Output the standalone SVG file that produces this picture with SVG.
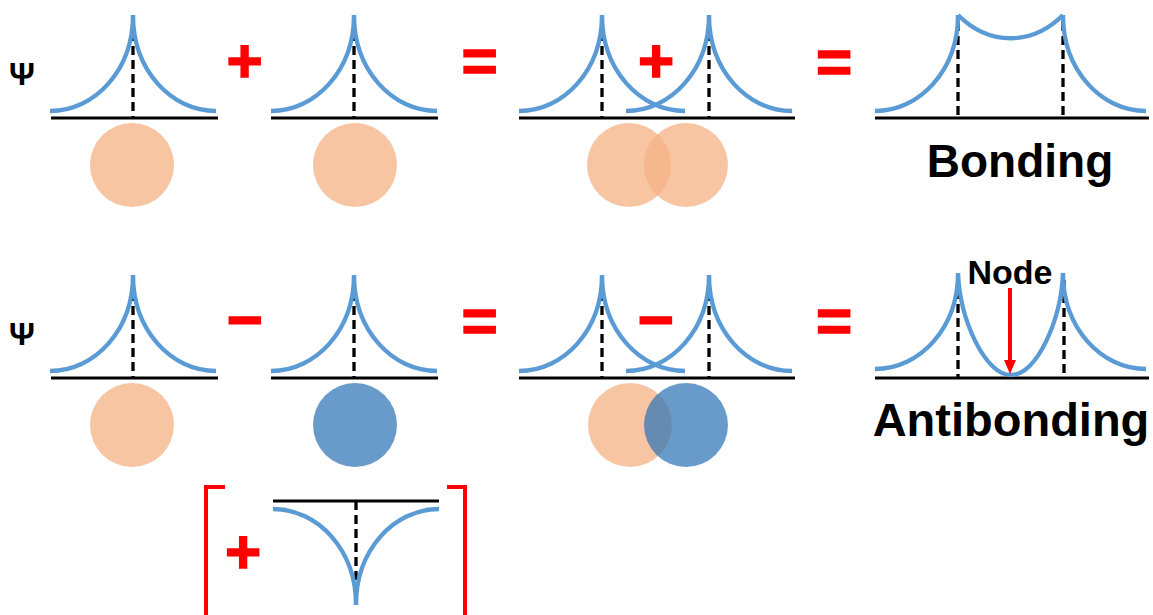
<svg xmlns="http://www.w3.org/2000/svg" xmlns:xlink="http://www.w3.org/1999/xlink" width="1153" height="615" viewBox="0 0 1153 615">
<style>
.wave{fill:none;stroke:#5B9BD5;stroke-width:4.3;stroke-linejoin:round;stroke-linecap:butt}
.axis{stroke:#000;stroke-width:3;fill:none}
.dash{stroke:#000;stroke-width:3.3;stroke-dasharray:9 5;fill:none}
.orb-a{fill:#F4B183;fill-opacity:0.75}
.orb-b{fill:#2E75B6;fill-opacity:0.72}
.op{font-family:"Liberation Sans",Arial,sans-serif;font-weight:bold;fill:#FF0000;stroke:#FF0000;stroke-width:1.5;text-anchor:middle}
.psi{font-family:"Liberation Sans",Arial,sans-serif;font-weight:bold;font-size:32px;fill:#000;text-anchor:middle}
.lbl{font-family:"Liberation Sans",Arial,sans-serif;font-weight:bold;fill:#000;text-anchor:middle}
.br{fill:none;stroke:#FF0000;stroke-width:4}
</style>
<defs>
<path id="lh" d="M-83,96 C-38,96 0,55 0,0"/>
<path id="rh" d="M0,0 C0,55 38,96 83,96"/>
<marker id="arr" viewBox="0 0 14 12" refX="2" refY="6" markerWidth="14" markerHeight="12" markerUnits="userSpaceOnUse" orient="auto">
<path d="M0,0 L14,6 L0,12 Z" fill="#FF0000"/>
</marker>
</defs>

<!-- Row 1: bonding -->
<g id="psi-1"><text class="psi" x="22" y="85">Ψ</text></g>
<g id="atom-1a">
<line class="axis" x1="51" y1="118" x2="218" y2="118"/>
<line class="dash" x1="133" y1="32" x2="133" y2="118"/>
<g class="wave"><use xlink:href="#lh" x="133" y="15"/><use xlink:href="#rh" x="133" y="15"/></g>
<circle class="orb-a" cx="132" cy="165" r="42"/>
</g>
<g id="plus-1"><text class="op" x="244.5" y="82" font-size="62">+</text></g>
<g id="atom-1b">
<line class="axis" x1="271" y1="118" x2="438" y2="118"/>
<line class="dash" x1="354" y1="32" x2="354" y2="118"/>
<g class="wave"><use xlink:href="#lh" x="354" y="15"/><use xlink:href="#rh" x="354" y="15"/></g>
<circle class="orb-a" cx="355" cy="165" r="42"/>
</g>
<g id="eq-1a"><text class="op" x="479.5" y="82" font-size="62">=</text></g>
<g id="overlap-1">
<line class="axis" x1="519" y1="118" x2="795" y2="118"/>
<line class="dash" x1="602" y1="32" x2="602" y2="118"/>
<line class="dash" x1="709" y1="32" x2="709" y2="118"/>
<g class="wave"><use xlink:href="#lh" x="602" y="15"/><use xlink:href="#rh" x="602" y="15"/><use xlink:href="#lh" x="709" y="15"/><use xlink:href="#rh" x="709" y="15"/></g>
<text class="op" x="656" y="82" font-size="62">+</text>
<circle class="orb-a" cx="629" cy="165" r="42"/>
<circle class="orb-a" cx="686" cy="165" r="42"/>
</g>
<g id="eq-1b"><text class="op" x="834" y="83" font-size="62">=</text></g>
<g id="bonding">
<line class="axis" x1="875" y1="118" x2="1149" y2="118"/>
<line class="dash" x1="958" y1="22" x2="958" y2="118"/>
<line class="dash" x1="1063" y1="22" x2="1063" y2="118"/>
<g class="wave"><use xlink:href="#lh" x="958" y="15"/><path d="M958,15 C989,46 1032,46 1063,15"/><use xlink:href="#rh" x="1063" y="15"/></g>
<text class="lbl" x="1020" y="177" font-size="46">Bonding</text>
</g>

<!-- Row 2: antibonding -->
<g id="psi-2"><text class="psi" x="22" y="345">Ψ</text></g>
<g id="atom-2a">
<line class="axis" x1="51" y1="378" x2="218" y2="378"/>
<line class="dash" x1="133" y1="292" x2="133" y2="378"/>
<g class="wave"><use xlink:href="#lh" x="133" y="275"/><use xlink:href="#rh" x="133" y="275"/></g>
<circle class="orb-a" cx="132" cy="425" r="42"/>
</g>
<g id="minus-1"><text class="op" x="244.5" y="341" font-size="62">−</text></g>
<g id="atom-2b">
<line class="axis" x1="271" y1="378" x2="438" y2="378"/>
<line class="dash" x1="354" y1="292" x2="354" y2="378"/>
<g class="wave"><use xlink:href="#lh" x="354" y="275"/><use xlink:href="#rh" x="354" y="275"/></g>
<circle class="orb-b" cx="355" cy="425" r="42"/>
</g>
<g id="eq-2a"><text class="op" x="479.5" y="342" font-size="62">=</text></g>
<g id="overlap-2">
<line class="axis" x1="519" y1="378" x2="795" y2="378"/>
<line class="dash" x1="602" y1="292" x2="602" y2="378"/>
<line class="dash" x1="709" y1="292" x2="709" y2="378"/>
<g class="wave"><use xlink:href="#lh" x="602" y="275"/><use xlink:href="#rh" x="602" y="275"/><use xlink:href="#lh" x="709" y="275"/><use xlink:href="#rh" x="709" y="275"/></g>
<text class="op" x="655.5" y="341" font-size="62">−</text>
<circle class="orb-a" cx="630" cy="425" r="42"/>
<circle class="orb-b" cx="686" cy="425" r="42"/>
</g>
<g id="eq-2b"><text class="op" x="834" y="342" font-size="62">=</text></g>
<g id="antibonding">
<line class="axis" x1="875" y1="378" x2="1149" y2="378"/>
<line class="dash" x1="958" y1="290" x2="958" y2="378"/>
<line class="dash" x1="1064" y1="280" x2="1064" y2="378"/>
<g class="wave"><use xlink:href="#lh" x="958" y="273"/><path d="M958,273 C960,320 985,375 1011,375 C1037,375 1061,320 1063,273"/><use xlink:href="#rh" x="1063" y="273"/></g>
<text class="lbl" x="1011" y="436" font-size="47">Antibonding</text>
</g>
<g id="node-label">
<text class="lbl" x="1010" y="284" font-size="34">Node</text>
</g>

<!-- bracket: phase-inverted orbital -->
<g id="inverted">
<path class="br" d="M225,487 L206,487 L206,617"/>
<path class="br" d="M447,487 L465,487 L465,617"/>
<text class="op" x="243" y="573" font-size="62">+</text>
<line class="axis" x1="273" y1="501" x2="439" y2="501"/>
<line class="dash" x1="356" y1="501" x2="356" y2="584"/>
<g class="wave" transform="translate(356,605) scale(1,-1)"><use xlink:href="#lh"/><use xlink:href="#rh"/></g>
</g>

<g id="connectors">
<line x1="1010" y1="288" x2="1010" y2="362" stroke="#FF0000" stroke-width="4" marker-end="url(#arr)"/>
</g>
</svg>
